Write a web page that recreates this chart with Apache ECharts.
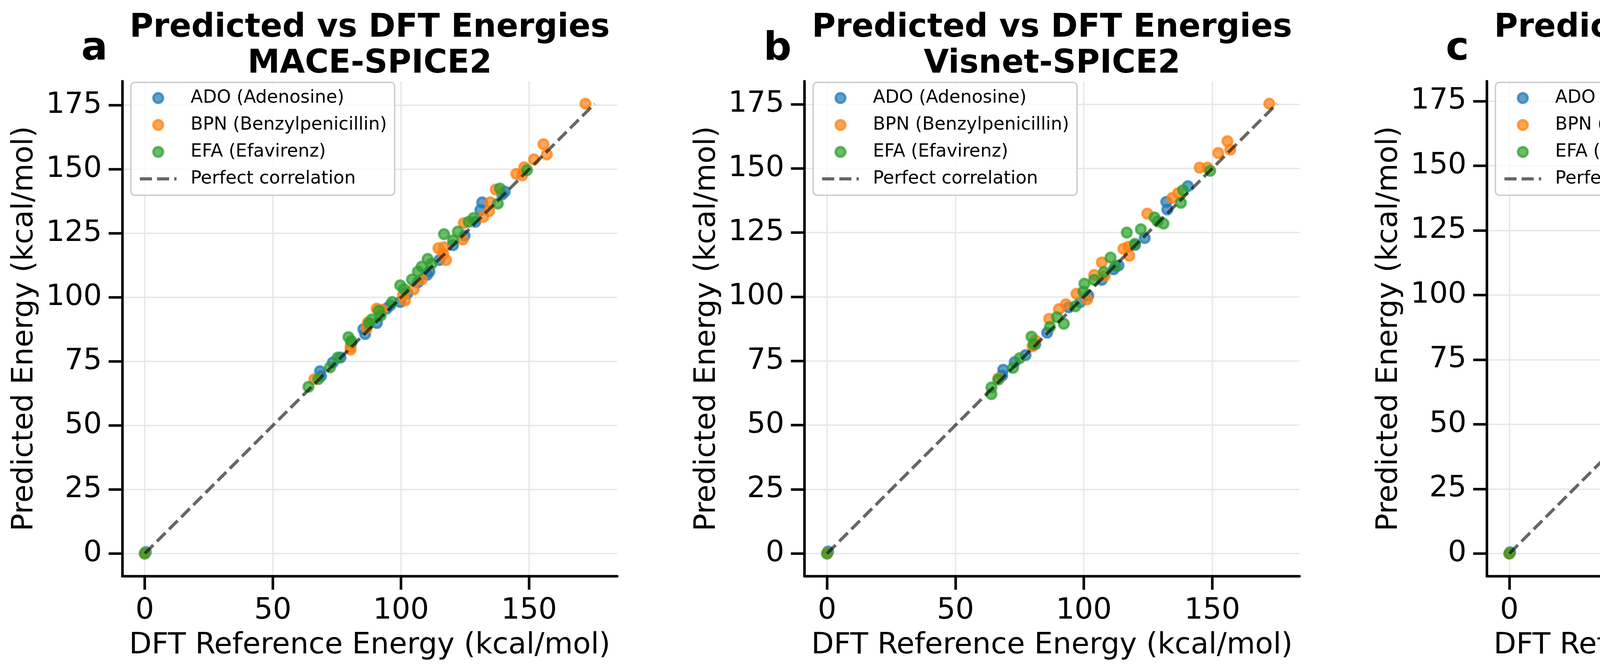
<!DOCTYPE html>
<html><head><meta charset="utf-8">
<script src="https://cdn.jsdelivr.net/npm/echarts@6/dist/echarts.min.js"></script>
<style>html,body{margin:0;padding:0;background:#fff}#c{width:6841px;height:1713px}</style>
</head><body><div id="c"></div>
<script>
// ---------- labels ----------
const panelTitles = ['MACE-SPICE2', 'Visnet-SPICE2', 'NequIP-SPICE2', 'GAFF2'];
const panelLetters = ['a', 'b', 'c', 'd'];
const seriesNames = ['ADO (Adenosine)', 'BPN (Benzylpenicillin)', 'EFA (Efavirenz)'];
const lineName = 'Perfect correlation';
const xTicksABC = [0, 50, 100, 150];
const yTicksABC = [0, 25, 50, 75, 100, 125, 150, 175];
const ticksD = [0, 50, 100, 150, 200];

// ---------- data: [DFT reference, predicted] ----------
const maceADO = [[0.4,0.6],[140.5,141.3],[139.5,140.2],[131.7,137.1],[131,134.1],[129,129.5],[124.8,124.1],[120.3,120.4],[115,114.6],[111.1,110.1],[110.2,108.8],[106.6,105.9],[102.5,101.6],[99.7,98.2],[95.8,96.9],[94.4,95.6],[90.6,90.0],[86,85.7],[85.3,87.6],[80.6,82.2],[76.4,76.5],[73.4,74.6],[68.4,71.2],[68.8,69.3]];
const maceBPN = [[0,0],[172,175.6],[155.6,159.8],[156.9,155.8],[151.9,153.9],[148.1,150.8],[145,148.2],[147.3,147.6],[137,142.1],[134.8,137.1],[134.4,133.7],[132.1,131.4],[124.5,129],[124.1,122.6],[114.6,119.2],[116.8,119.6],[117.6,114.6],[116.5,116.9],[108.1,107],[105,103.2],[101.6,98.8],[100.8,100.9],[90.5,95.6],[92.8,95.2],[86.7,88],[80.3,80.7],[80.3,79.6],[66.2,68.1],[87.1,90.2]];
const maceEFA = [[0,0],[149.2,149.7],[138.6,142.5],[137.8,136.6],[128.3,131],[126.4,129.5],[116.8,124.7],[122.2,125.7],[120.3,122.3],[110.4,115],[111.9,113.1],[108.1,112],[106.6,110.1],[104.3,107],[99.7,104.7],[101.2,103.2],[96.6,98.2],[92.1,92.9],[91.3,94.8],[87.5,89.9],[79.5,84.5],[80.6,83],[75.3,76.5],[72.3,72.7],[67.7,68.1],[63.9,65.1],[88.6,91.4]];

const visADO = [[0.4,0.8],[140.5,143.1],[132.1,137],[132.5,134],[123.7,122.9],[119.9,120.2],[113.5,112.2],[111.6,110.7],[107,106.6],[101.7,100.5],[98.6,97.9],[94.1,95.9],[85.7,86],[81.1,81.5],[77.3,77.3],[73.1,74.6],[68.6,71.6],[68.2,69.3]];
const visBPN = [[0,0],[172.2,175.2],[155.9,160.6],[157,157.3],[152.3,156],[145.1,150.3],[148.1,150.3],[124.7,132.4],[134.4,138.5],[136.7,140.4],[117.3,119.5],[115.4,118.7],[117.7,116],[107,113.4],[108.1,108.1],[104,108.5],[101.3,99],[97.1,101.2],[90.3,95.2],[93,97.1],[86.5,91.4],[80,80.7],[66.7,68.2],[81.1,83]];
const visEFA = [[0,0],[149.2,149.1],[137.8,136.6],[138.6,141.5],[131,128.5],[127.5,130.9],[128.7,129.4],[116.7,125],[122.2,126.3],[119.9,120.6],[112.3,111.9],[110.4,115.3],[107.8,109.6],[104,106.6],[100.2,105.1],[99.8,102],[96.7,96.3],[92.2,89.5],[89.5,92.1],[86.8,88.3],[79.6,84.5],[80.4,81.5],[75,76.1],[72.4,72.3],[66.7,67.8],[64,64.7],[64,62.1]];

const neqADO = [[0.3,0.5],[140.3,143],[132,135.1],[134.7,134.7],[123.3,123.4],[119.9,120.3],[115.4,113.5],[110.9,109.8],[105.6,106],[100.8,101.5],[94.3,96.5],[96.5,95.4],[86,86.7],[81.4,81.4],[76.9,77.3],[73.1,74.6],[68.6,71.2],[67.1,68.2]];
const neqBPN = [[0,0],[172.1,174],[155.6,159.7],[156.9,156.5],[151.9,156.1],[148,152.1],[145.2,149.5],[136.9,143.4],[134.7,140.4],[134.3,132.8],[132.8,133.2],[124.5,129.4],[114.7,120.3],[116.2,119.6],[117.3,114.7],[109.4,112.8],[104.5,111.3],[110.9,110.1],[101.1,106.7],[96.5,100],[101.1,97.7],[90.1,95.8],[92.7,93.1],[79.2,82.9],[66.7,68.6]];
const neqEFA = [[0,0],[149.2,148.7],[138.7,138.1],[130.9,131.7],[127.5,129.4],[127.9,132.3],[122.2,124.3],[116.6,126.2],[119.9,120.7],[111.3,117.3],[109.4,112],[105.6,109],[103.3,106],[99.9,105.2],[99.9,100.7],[96.5,95.8],[92.4,91.6],[88.2,92],[86.7,90.5],[79.5,85.6],[79.9,83.3],[74.6,78],[72.4,73.1],[67.4,68.2],[63.7,65.6],[64,63.7]];

const gaffADO = [[0.5,0.5],[117.9,149.5],[140.6,152.2],[129.7,196.7],[132.2,192.6],[132.4,140.8],[134.8,136.1],[133.4,130.5],[140.6,129.3],[123.5,127.2],[124.7,126.2],[117.9,128.5],[128.9,120.4],[115.9,122.7],[120.4,117.3],[119.4,112],[114.8,114],[109.5,120.2],[112.4,121],[111.5,114.4],[104.5,120.2],[103.5,114.8],[101.6,109.3],[107,104.5],[101.6,105.2],[98,104.7],[99.8,102],[96.1,100],[91.1,100.4],[110.7,99],[86.6,91.1],[93.2,89.7],[91.1,85.6],[89.7,87.6],[85.9,81.4],[76.3,79],[73.4,77.7],[81,75.9],[68.5,74.6],[86,74.6],[68.9,96.9],[73.8,60],[84.5,87.6],[93.3,88],[87.4,82.5]];
const gaffBPN = [[0,0],[137.5,216],[125.2,210.7],[156.1,210.3],[172.2,196.7],[127.6,196.3],[157.1,182.1],[134.8,168],[135,159.2],[152.4,159],[147.8,150.3],[145.8,148.5],[123.1,147],[120.4,142.9],[114.8,140.8],[108.2,139.8],[102,140.8],[117.9,135.9],[132.8,139.6],[138.1,134],[147.5,136.3],[117.9,130.1],[108.2,123.7],[101.9,123.7],[98,124.7],[90.7,122.7],[116.9,121.9],[123.5,115.5],[125.2,115.9],[124.1,114],[114.8,110.3],[115.5,109.9],[103.3,109.3],[104.7,107.2],[112.4,103.1],[104.5,99],[103.1,93.8],[88.7,99],[87.4,97.5],[81.4,92.8],[93.6,88.5],[92.8,82.5],[80.2,74.6],[67,53],[99,120],[88.7,95.9]];
const gaffEFA = [[0,0],[117.3,214.8],[131.1,202.5],[128,191.8],[127.6,176.7],[80,157.1],[111.8,161],[110.3,153.6],[122.5,153],[149.3,150.5],[127.8,145.4],[138.1,144.7],[129,141.6],[120.4,139.8],[100,137.5],[104.5,136.7],[108.7,135.7],[113.4,134],[106.6,132],[108.7,129.3],[139.2,129.3],[96.9,128.9],[91.8,127.2],[90.3,125.2],[100.4,123.1],[103.5,119.6],[105.6,114],[88.7,116.1],[87.4,114.4],[91.1,112.8],[92.8,109.9],[81.2,115.5],[86.2,106.2],[87,104.1],[88.2,102.7],[74.6,100.6],[63.9,96.3],[67,89.7],[68,86.6],[79.6,95.5],[82.1,90.7],[76.3,84.5],[64.3,77.3],[72.6,76.9],[89.5,93.8],[92.4,80.4],[99.2,97.9]];

// ---------- build ----------
const FONT = 'DejaVu Sans';
const colors = ['#1f77b4', '#ff7f0e', '#2ca02c'];
const panels = [
  { sets: [maceADO, maceBPN, maceEFA], xt: xTicksABC, yt: yTicksABC },
  { sets: [visADO, visBPN, visEFA], xt: xTicksABC, yt: yTicksABC },
  { sets: [neqADO, neqBPN, neqEFA], xt: xTicksABC, yt: yTicksABC },
  { sets: [gaffADO, gaffBPN, gaffEFA], xt: ticksD, yt: ticksD }
];
const gridLeft0 = 313, gridStep = 1746.67, gridTop = 208, gridSize = 1267;

const option = { animation: false, backgroundColor: '#fff', title: [], legend: [], grid: [], xAxis: [], yAxis: [], series: [] };

panels.forEach((p, i) => {
  const left = gridLeft0 + i * gridStep;
  let M = 0;
  p.sets.forEach(s => s.forEach(d => { M = Math.max(M, d[0], d[1]); }));
  const mn = -0.05 * M, mx = 1.05 * M;

  option.grid.push({ left: left, top: gridTop, width: gridSize, height: gridSize });

  const mkAxis = (ticks, name, gap) => ({
    type: 'value', gridIndex: i, min: mn, max: mx,
    name: name, nameLocation: 'middle', nameGap: gap,
    nameTextStyle: { fontFamily: FONT, fontSize: 75, color: '#000', lineHeight: 75 },
    axisLine: { show: true, onZero: false, lineStyle: { color: '#000', width: 6.6 } },
    axisTick: { show: true, inside: false, length: 35, lineStyle: { color: '#000', width: 6.6 }, customValues: ticks },
    axisLabel: { show: true, margin: 52, fontFamily: FONT, fontSize: 75, color: '#000', lineHeight: 75, customValues: ticks, formatter: v => String(v) },
    splitLine: { show: true, lineStyle: { color: '#e6e6e6', width: 3.3 } }
  });
  option.xAxis.push(mkAxis(p.xt, 'DFT Reference Energy (kcal/mol)', 141));
  option.yAxis.push(mkAxis(p.yt, 'Predicted Energy (kcal/mol)', 212));

  p.sets.forEach((s, k) => {
    option.series.push({
      type: 'scatter', name: seriesNames[k], xAxisIndex: i, yAxisIndex: i,
      data: s, symbol: 'circle', symbolSize: 25, silent: true, z: 2 + k * 0.1,
      itemStyle: { color: colors[k], opacity: 0.7, borderColor: colors[k], borderWidth: 6 }
    });
  });
  option.series.push({
    type: 'line', name: lineName, xAxisIndex: i, yAxisIndex: i,
    data: [[0, 0], [M, M]], symbol: 'none', silent: true, z: 5,
    lineStyle: { color: 'rgba(0,0,0,0.6)', width: 8, type: [31, 13], cap: 'butt' }
  });

  option.legend.push({
    show: true, orient: 'vertical', left: left + 22, top: 211,
    selectedMode: false,
    data: [
      { name: seriesNames[0], itemStyle: { borderWidth: 6 } },
      { name: seriesNames[1], itemStyle: { borderWidth: 6 } },
      { name: seriesNames[2], itemStyle: { borderWidth: 6 } },
      { name: lineName, itemStyle: { opacity: 0 }, lineStyle: { width: 8, type: [31, 13], color: 'rgba(0,0,0,0.6)' } }
    ],
    itemWidth: 94, itemHeight: 25, itemGap: 23,
    padding: [17, 20, 19, 19],
    backgroundColor: 'rgba(255,255,255,0.8)', borderColor: '#cccccc', borderWidth: 3.5, borderRadius: 10,
    textStyle: { fontFamily: FONT, fontSize: 46, color: '#000', lineHeight: 46, padding: [0, 0, 0, 31] }
  });

  option.title.push({
    text: 'Predicted vs DFT Energies\n' + panelTitles[i],
    left: left + gridSize / 2, top: 26, textAlign: 'center', padding: 0,
    textStyle: { fontFamily: FONT, fontSize: 83, fontWeight: 'bold', color: '#000', lineHeight: 92 }
  });
  option.title.push({
    text: panelLetters[i], left: left - 105, top: 77, padding: 0,
    textStyle: { fontFamily: FONT, fontSize: 100, fontWeight: 'bold', color: '#000', lineHeight: 100 }
  });
});

const chart = echarts.init(document.getElementById('c'), null, { renderer: 'canvas', width: 6841, height: 1713 });
chart.setOption(option);
</script>
</body></html>
